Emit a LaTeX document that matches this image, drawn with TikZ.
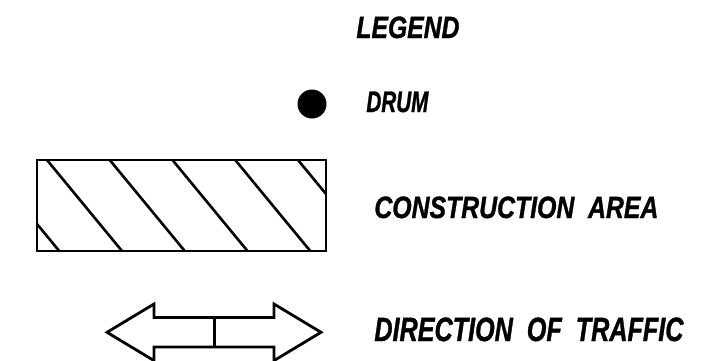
\documentclass[tikz,border=0pt]{standalone}
\usepackage{fontspec}
\setmainfont{Liberation Sans}
\newfontfamily\lbfont{Liberation Sans}[BoldItalicFeatures={FakeBold=1.2}]
\usepackage{graphicx}
\begin{document}
\begin{tikzpicture}[x=1pt,y=-1pt,line width=2.8pt,
  lbl/.style={anchor=base west, inner sep=0pt, font=\lbfont\bfseries\itshape},
  hatch/.style={line width=2.6pt}]
\useasboundingbox (0,0) rectangle (720,360);
\clip (0,0) rectangle (720,360);
% texts
\node[lbl] (legend) at (355,38) {\resizebox{103pt}{21.5pt}{LEGEND}};
\node[lbl] (drumtxt) at (365,112) {\resizebox{62pt}{20.5pt}{DRUM}};
\node[lbl] (areatxt) at (373,218) {\resizebox{284pt}{21.5pt}{CONSTRUCTION\ \ AREA}};
\node[lbl] (traffictxt) at (373,341) {\resizebox{309pt}{23.5pt}{DIRECTION\ \ OF\ \ TRAFFIC}};
% drum
\fill (312,104) circle[radius=14.5];
% construction area
\begin{scope}
  \clip (37,160) rectangle (326,251);
  \foreach \p in {-15.75,47,109.75,172.5,235.25,298}
    \draw[hatch] (\p-20,160-24.27) -- (\p+95,251+24.27);
\end{scope}
\draw (37,160) rectangle (326,251);
% direction of traffic arrow
\draw (107,332.3) -- (154,304) -- (154,317.5) -- (274,317.5) -- (274,304)
  -- (321,332.3) -- (274,360.6) -- (274,347) -- (154,347) -- (154,360.6) -- cycle;
\draw (214.5,317.5) -- (214.5,347);
\end{tikzpicture}
\end{document}
